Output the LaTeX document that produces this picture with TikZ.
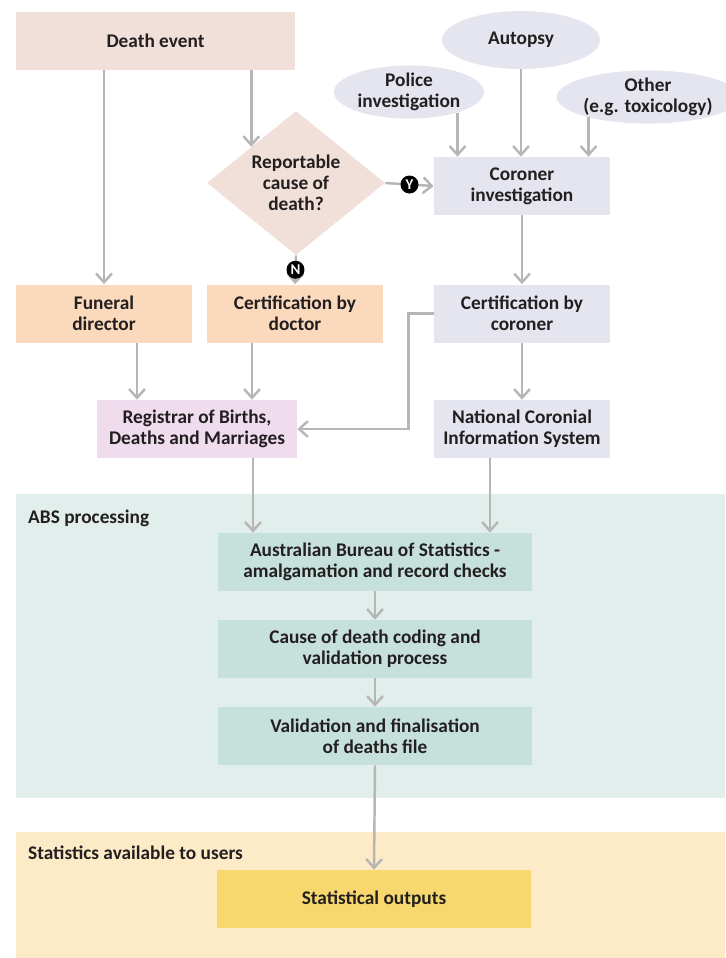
\documentclass[tikz,border=0pt]{standalone}
\usepackage{fontspec}
\setmainfont{Carlito}
\usetikzlibrary{shapes.geometric,arrows.meta}
\definecolor{ink}{HTML}{231F20}
\definecolor{rose}{HTML}{F1DFD9}
\definecolor{lav}{HTML}{E5E5EF}
\definecolor{peach}{HTML}{FAD9BC}
\definecolor{lilac}{HTML}{EFDDEE}
\definecolor{tealpanel}{HTML}{E1EEEB}
\definecolor{tealbox}{HTML}{C6E1DC}
\definecolor{sandpanel}{HTML}{FDEBC8}
\definecolor{gold}{HTML}{F8D76E}
\definecolor{arrgrey}{HTML}{B6B6B6}
\begin{document}
\begin{tikzpicture}[x=0.02cm,y=-0.02cm,
	txt/.style = {text=ink, font=\fontsize{11}{11.8}\selectfont\bfseries},
	box/.style = {txt, rectangle, minimum width=3.52cm, minimum height=1.16cm, align=center, inner sep=2pt},
	wide/.style = {box, minimum width=6.28cm},
	oval/.style = {txt, ellipse, fill=lav, align=center, inner sep=0pt},
	yn/.style = {circle, fill=black, text=white, inner sep=0pt, minimum size=0.36cm, font=\fontsize{8.5}{8.5}\selectfont\bfseries},
	arr/.style = {draw=arrgrey, line width=1.4pt, -{Straight Barb[length=5pt,width=9pt]}}]
	\useasboundingbox (0,0) rectangle (725,958);
	\fill[tealpanel] (16,494) rectangle (725,798);
	\fill[sandpanel] (16,832) rectangle (725,958);
	\node[txt, anchor=west] (abslabel) at (22,518) {ABS processing};
	\node[txt, anchor=west] (statlabel) at (22,853) {Statistics available to users};

	\node[box, fill=rose, minimum width=5.58cm] (death) at (155.5,41) {Death event};
	\node[oval, minimum width=3.16cm, minimum height=1.16cm] (autopsy) at (521,40) {Autopsy};
	\node[oval, minimum width=3cm, minimum height=1cm] (police) at (409,92) {Police\\investigation};
	\node[oval, minimum width=3.1cm, minimum height=1.04cm] (other) at (648,97) {Other\\(e.g. toxicology)};
	\node[txt, diamond, fill=rose, align=center, inner sep=0pt, minimum width=3.56cm, minimum height=2.06cm] (report) at (296,183) {Reportable\\cause of\\death?};
	\node[box, fill=lav] (coroner) at (522,186) {Coroner\\investigation};
	\node[box, fill=peach] (funeral) at (104,313.5) {Funeral\\director};
	\node[box, fill=peach] (doctor) at (295,313.5) {Certification by\\doctor};
	\node[box, fill=lav] (certcor) at (522,313.5) {Certification by\\coroner};
	\node[box, fill=lilac, minimum width=4cm] (registrar) at (197,429) {Registrar of Births,\\Deaths and Marriages};
	\node[box, fill=lav] (ncis) at (522,429) {National Coronial\\Information System};
	\node[wide, fill=tealbox] (abs) at (375,562) {Australian Bureau of Statistics -\\amalgamation and record checks};
	\node[wide, fill=tealbox] (coding) at (375,649) {Cause of death coding and\\validation process};
	\node[wide, fill=tealbox] (valid) at (375,736) {Validation and finalisation\\of deaths file};
	\node[wide, fill=gold] (outputs) at (374,899) {Statistical outputs};

	\draw[arr] (death.south -| funeral.north) -- (funeral.north);
	\draw[arr] (death.south -| report.north west) -- (report.north west);
	\draw[arr] (police.-23) -- (police.-23 |- coroner.north);
	\draw[arr] (autopsy.south) -- (autopsy.south |- coroner.north);
	\draw[arr] (other.-161) -- (other.-161 |- coroner.north);
	\draw[arr] (report.east) -- node[yn] (yes) {Y} (coroner.west);
	\draw[arr] (report.south) -- node[yn] (no) {N} (doctor.north);
	\draw[arr] (coroner.south) -- (certcor.north);
	\draw[arr] ([xshift=0.66cm]funeral.south) -- ([xshift=0.66cm]funeral.south |- registrar.north);
	\draw[arr] ([xshift=-0.86cm]doctor.south) -- ([xshift=-0.86cm]doctor.south |- registrar.north);
	\draw[arr] (certcor.west) -- ++(-25,0) |- (registrar.east);
	\draw[arr] (certcor.south) -- (ncis.north);
	\draw[arr] ([xshift=1.12cm]registrar.south) -- ([xshift=1.12cm]registrar.south |- abs.north);
	\draw[arr] ([xshift=-0.64cm]ncis.south) -- ([xshift=-0.64cm]ncis.south |- abs.north);
	\draw[arr] (abs.south) -- (coding.north);
	\draw[arr] (coding.south) -- (valid.north);
	\draw[arr] (valid.south) -- (outputs.north);
\end{tikzpicture}
\end{document}
